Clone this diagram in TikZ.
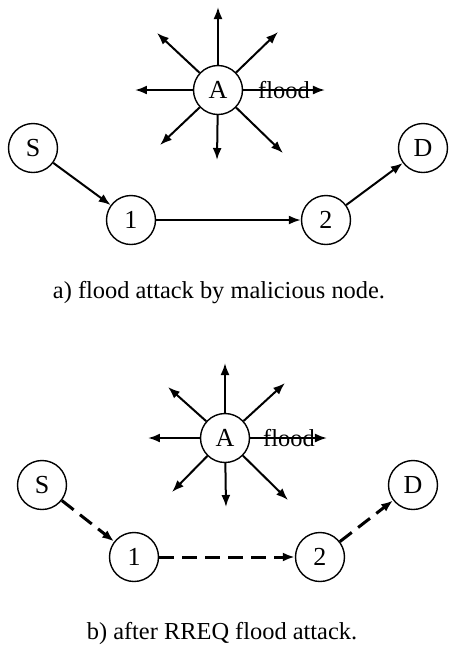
\documentclass[tikz,border=0pt]{standalone}
\usepackage{fontspec}
\setmainfont{Liberation Serif}
\usetikzlibrary{arrows.meta}

\tikzset{
  host/.style={draw, circle, line width=0.7pt, minimum size=24.5pt, inner sep=0pt,
    font=\fontsize{13}{15}\selectfont},
  flow/.style={line width=1pt, -{Latex[length=6pt,width=4.5pt]}},
  weak/.style={line width=1.5pt, dash pattern=on 7.5pt off 4pt,
    -{Latex[length=6pt,width=4.5pt]}},
  caption/.style={font=\fontsize{12.2}{14}\selectfont},
}

\begin{document}
\begin{tikzpicture}[x=0.5pt, y=-0.5pt]
    \useasboundingbox (0,0) rectangle (449,661);

    % ===== a) flooding node A and the route S-1-2-D =====
    \node[host] (aA) at (218,90) {A};
    \node[caption] (aflood) at (284,90) {flood};

    % ends of the flood rays
    \coordinate (aN)  at (218,7);
    \coordinate (aNE) at (278,32);
    \coordinate (aE)  at (325,90);
    \coordinate (aSE) at (283,153);
    \coordinate (aS0) at (217,160);
    \coordinate (aSW) at (160,145);
    \coordinate (aW)  at (135,90);
    \coordinate (aNW) at (157,33);
    \foreach \c in {aN,aNE,aE,aSE,aS0,aSW,aW,aNW} {
        \draw[flow] (aA) -- (\c);
    }

    % route
    \node[host] (aS) at (33,148)  {S};
    \node[host] (a1) at (131,220) {1};
    \node[host] (a2) at (326,220) {2};
    \node[host] (aD) at (423,148) {D};
    \draw[flow] (aS) -- (a1);
    \draw[flow] (a1) -- (a2);
    \draw[flow] (a2) -- (aD);

    \node[caption] (capa) at (219,293) {a) flood attack by malicious node.};

    % ===== b) the same route after the flood =====
    \node[host] (bA) at (225,438) {A};
    \node[caption] (bflood) at (289,438) {flood};

    \coordinate (bN)  at (225,363);
    \coordinate (bNE) at (285,383);
    \coordinate (bE)  at (327,438);
    \coordinate (bSE) at (288,500);
    \coordinate (bS0) at (226,507);
    \coordinate (bSW) at (172,492);
    \coordinate (bW)  at (148,438);
    \coordinate (bNW) at (168,387);
    \foreach \c in {bN,bNE,bE,bSE,bS0,bSW,bW,bNW} {
        \draw[flow] (bA) -- (\c);
    }

    \node[host] (bS) at (42,485)  {S};
    \node[host] (b1) at (134,557) {1};
    \node[host] (b2) at (320,557) {2};
    \node[host] (bD) at (413,485) {D};
    \draw[weak] (bS) -- (b1);
    \draw[weak] (b1) -- (b2);
    \draw[weak] (b2) -- (bD);

    \node[caption] (capb) at (222,633) {b) after RREQ flood attack.};
\end{tikzpicture}
\end{document}
